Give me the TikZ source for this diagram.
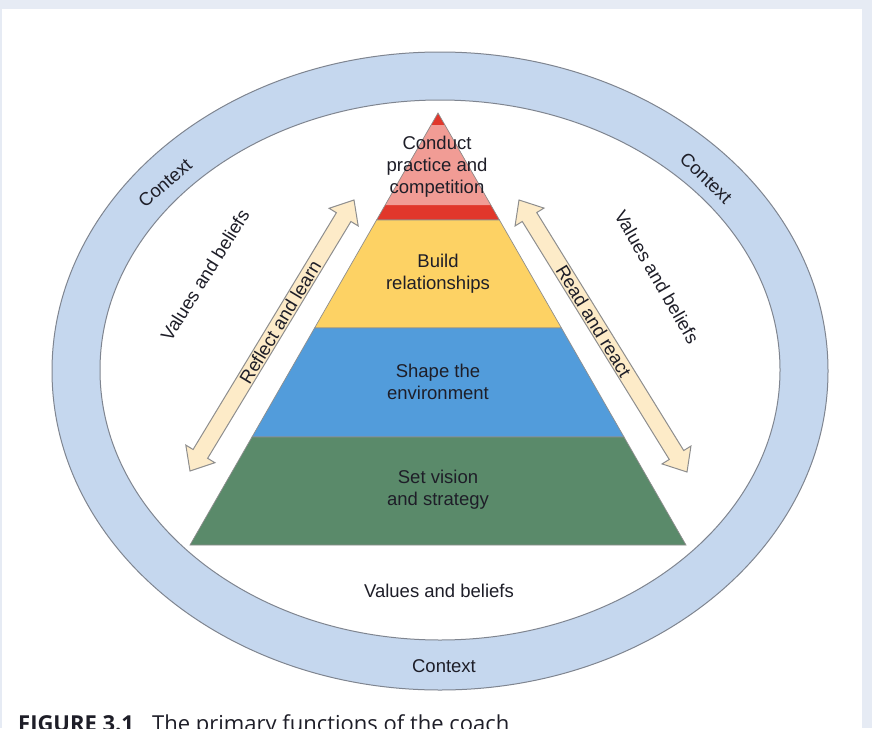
\documentclass[tikz,border=0pt]{standalone}
\usepackage{fontspec}
\setmainfont{Liberation Sans}
\newfontfamily\capfont{Open Sans}
\usetikzlibrary{calc}
\definecolor{framebg}{HTML}{E6EBF4}
\definecolor{ringfill}{HTML}{C5D7EE}
\definecolor{ringline}{HTML}{7F8590}
\definecolor{topred}{HTML}{E1372B}
\definecolor{toppink}{HTML}{F19C95}
\definecolor{layyellow}{HTML}{FDD264}
\definecolor{layblue}{HTML}{529CDB}
\definecolor{laygreen}{HTML}{5A8A6A}
\definecolor{arrfill}{HTML}{FDEBC8}
\definecolor{arrline}{HTML}{8E8E8E}
\definecolor{txt}{HTML}{1E1E28}
\newcommand{\dblarrowpath}[2]{%
  ($(#1)$) -- ($(#1)!26.25pt!40.36:(#2)$) -- ($(#1)!21.73pt!23.03:(#2)$)
  -- ($(#2)!21.73pt!-23.03:(#1)$) -- ($(#2)!26.25pt!-40.36:(#1)$) -- ($(#2)$)
  -- ($(#2)!26.25pt!40.36:(#1)$) -- ($(#2)!21.73pt!23.03:(#1)$)
  -- ($(#1)!21.73pt!-23.03:(#2)$) -- ($(#1)!26.25pt!-40.36:(#2)$) -- cycle}
\newcommand{\layerpath}[2]{%
  ($(P)!#1!(L)$) -- ($(P)!#2!(L)$) -- ($(P)!#2!(R)$) -- ($(P)!#1!(R)$) -- cycle}
\tikzset{
  lbl/.style={text=txt, font=\fontsize{18.5}{22}\selectfont, align=center, inner sep=0pt},
  ringsty/.style={fill=ringfill, draw=ringline, line width=1pt},
  laysty/.style={draw=arrline, line width=0.7pt},
  arrsty/.style={fill=arrfill, draw=arrline, line width=1pt, line join=miter},
}
\begin{document}
\begin{tikzpicture}[x=1pt,y=-1pt]
\useasboundingbox (0,0) rectangle (872,728);
\clip (0,0) rectangle (872,728);
\fill[framebg] (0,0) rectangle (872,728);
\fill[white] (2,9) rectangle (862,728);

% rings
\draw[ringsty] (440,371) ellipse [x radius=388pt, y radius=319pt];
\draw[fill=white, draw=ringline, line width=1pt] (440,370) ellipse [x radius=340pt, y radius=270pt];

% pyramid
\coordinate (P) at (438,113);
\coordinate (L) at (190,545);
\coordinate (R) at (686,545);
\fill[topred] \layerpath{0}{0.2477};
\fill[toppink] \layerpath{0.028}{0.213};
\draw[laysty] \layerpath{0}{0.2477};
\filldraw[laysty, fill=layyellow] \layerpath{0.2477}{0.4977};
\filldraw[laysty, fill=layblue] \layerpath{0.4977}{0.75};
\filldraw[laysty, fill=laygreen] \layerpath{0.75}{1};

\node[lbl] (conduct) at (437,167) {Conduct\\practice and\\competition};
\node[lbl] (build) at (438,274) {Build\\relationships};
\node[lbl] (shape) at (438,382) {Shape the\\environment};
\node[lbl] (vision) at (438,490) {Set vision\\and strategy};

% arrows
\coordinate (lA) at (190,471);
\coordinate (lB) at (354,200);
\coordinate (rA) at (519,200);
\coordinate (rB) at (687,472);
\filldraw[arrsty] \dblarrowpath{lA}{lB};
\filldraw[arrsty] \dblarrowpath{rA}{rB};
\node[lbl, rotate=58.9] (reflect) at ($(lA)!0.55!(lB)$) {Reflect and learn};
\node[lbl, rotate=-58.5] (read) at ($(rA)!0.445!(rB)$) {Read and react};

% values and beliefs
\node[lbl, rotate=58] (vbl) at (205,275) {Values and beliefs};
\node[lbl, rotate=-60] (vbr) at (657,277) {Values and beliefs};
\node[lbl] (vbb) at (439,591) {Values and beliefs};

% context
\node[lbl, rotate=41] (ctl) at (165,183) {Context};
\node[lbl, rotate=-44] (ctr) at (706,178) {Context};
\node[lbl] (ctb) at (444,666) {Context};

% caption
\node[anchor=base west, inner sep=0pt, text=txt, font=\capfont\bfseries\fontsize{22}{26}\selectfont] (fig) at (18,731) {FIGURE 3.1};
\node[anchor=base west, inner sep=0pt, text=txt, font=\capfont\fontsize{22}{26}\selectfont] (captxt) at (152,731) {The primary functions of the coach};
\end{tikzpicture}
\end{document}
